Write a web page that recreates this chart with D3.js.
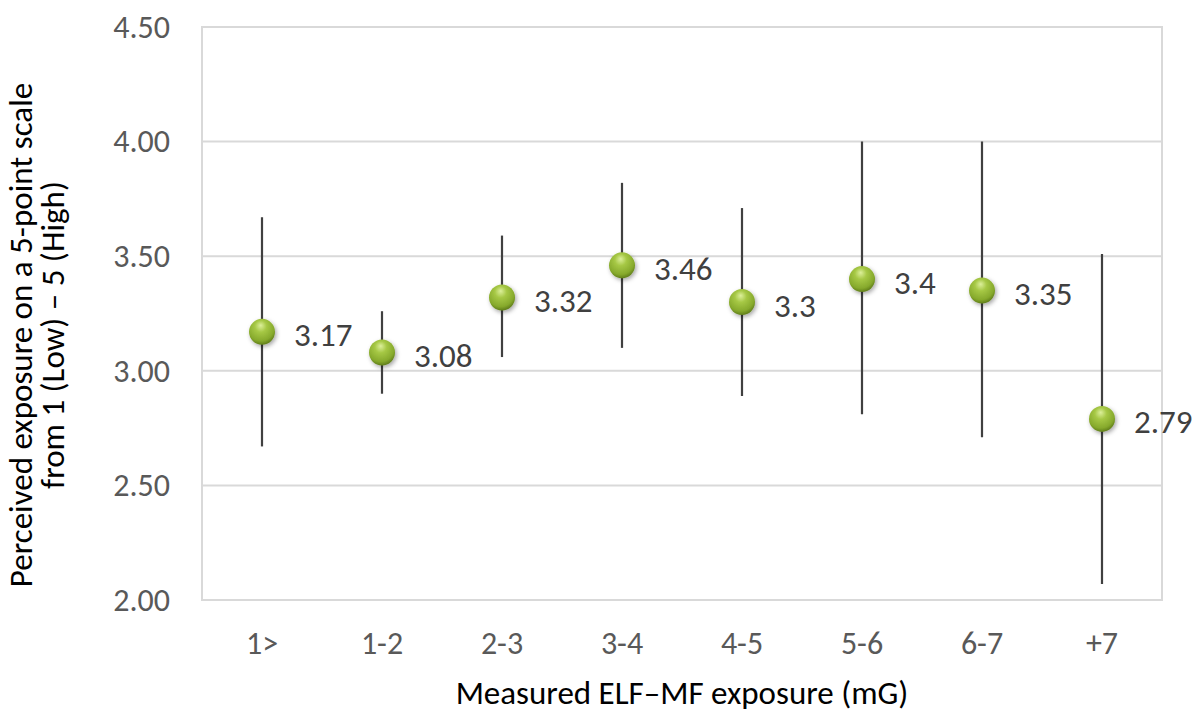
<!DOCTYPE html>
<html>
<head>
<meta charset="utf-8">
<script src="https://cdn.jsdelivr.net/npm/d3@7"></script>
<style>
  html, body { margin: 0; padding: 0; background: #fff; }
  svg { display: block; }
  text { font-family: Carlito, Calibri, Lato, "Open Sans", sans-serif; }
</style>
</head>
<body>
<svg id="chart" width="1199" height="714"></svg>
<script>
const categories = ["1>", "1-2", "2-3", "3-4", "4-5", "5-6", "6-7", "+7"];
const means = [3.17, 3.08, 3.32, 3.46, 3.3, 3.4, 3.35, 2.79];
const lows  = [2.67, 2.90, 3.06, 3.10, 2.89, 2.81, 2.71, 2.07];
const highs = [3.67, 3.26, 3.59, 3.82, 3.71, 4.00, 4.00, 3.51];
const labels = ["3.17", "3.08", "3.32", "3.46", "3.3", "3.4", "3.35", "2.79"];
const yTicks = [2.0, 2.5, 3.0, 3.5, 4.0, 4.5];

(function () {
const svg = d3.select("#chart");
const pL = 202, pR = 1162, pT = 27, pB = 600;
const FF = "Carlito, Calibri, Lato, 'Open Sans', sans-serif";

const x = d3.scaleBand().domain(categories).range([pL, pR]).padding(0);
const y = d3.scaleLinear().domain([2, 4.5]).range([pB, pT]);

const defs = svg.append("defs");
const grad = defs.append("radialGradient").attr("id", "ball")
  .attr("cx", "45%").attr("cy", "35%").attr("r", "65%").attr("fx", "45%").attr("fy", "25%");
grad.append("stop").attr("offset", "0%").attr("stop-color", "#dcef9a");
grad.append("stop").attr("offset", "35%").attr("stop-color", "#a6c845");
grad.append("stop").attr("offset", "80%").attr("stop-color", "#86a92c");
grad.append("stop").attr("offset", "100%").attr("stop-color", "#5f7d1a");
const f = defs.append("filter").attr("id", "shadow").attr("x", "-50%").attr("y", "-50%").attr("width", "200%").attr("height", "200%");
f.append("feDropShadow").attr("dx", 1.5).attr("dy", 2).attr("stdDeviation", 2).attr("flood-color", "#000").attr("flood-opacity", 0.35);

svg.append("g").selectAll("line").data(yTicks).join("line")
  .attr("x1", pL).attr("x2", pR)
  .attr("y1", d => y(d)).attr("y2", d => y(d))
  .attr("stroke", "#d9d9d9").attr("stroke-width", 2);

svg.append("rect").attr("x", pL).attr("y", pT).attr("width", pR - pL).attr("height", pB - pT)
  .attr("fill", "none").attr("stroke", "#d9d9d9").attr("stroke-width", 2);

const yAxis = svg.append("g").attr("transform", `translate(${pL},0)`)
  .call(d3.axisLeft(y).tickValues(yTicks).tickFormat(d3.format(".2f")).tickSize(0).tickPadding(32));
yAxis.select(".domain").remove();
yAxis.selectAll("text").attr("fill", "#595959").style("font-size", "32px").style("font-family", FF);

const xAxis = svg.append("g").attr("transform", `translate(0,${pB})`)
  .call(d3.axisBottom(x).tickSize(0).tickPadding(31));
xAxis.select(".domain").remove();
xAxis.selectAll("text").attr("fill", "#595959").style("font-size", "32px").style("font-family", FF);

const cx = i => x(categories[i]) + x.bandwidth() / 2;
svg.append("g").selectAll("line").data(means).join("line")
  .attr("x1", (d, i) => cx(i)).attr("x2", (d, i) => cx(i))
  .attr("y1", (d, i) => y(lows[i])).attr("y2", (d, i) => y(highs[i]))
  .attr("stroke", "#404040").attr("stroke-width", 2.2);

svg.append("g").selectAll("circle").data(means).join("circle")
  .attr("cx", (d, i) => cx(i)).attr("cy", d => y(d)).attr("r", 13)
  .attr("fill", "url(#ball)").attr("filter", "url(#shadow)");

svg.append("g").selectAll("text").data(means).join("text")
  .attr("x", (d, i) => cx(i) + 32).attr("y", d => y(d) + 3)
  .attr("dy", "0.35em")
  .attr("fill", "#404040").style("font-size", "33px")
  .text((d, i) => labels[i]);

svg.append("text").attr("x", (pL + pR) / 2).attr("y", 704)
  .attr("text-anchor", "middle").attr("fill", "#000").style("font-size", "33px")
  .text("Measured ELF\u2013MF exposure (mG)");

const yt = svg.append("text").attr("transform", "translate(0,335) rotate(-90)")
  .attr("text-anchor", "middle").attr("fill", "#000").style("font-size", "33px");
yt.append("tspan").attr("x", 0).attr("y", 32).text("Perceived exposure on a 5-point scale");
yt.append("tspan").attr("x", 0).attr("y", 64).text("from  1 (Low) \u2013 5 (High)");
})();
</script>
</body>
</html>
